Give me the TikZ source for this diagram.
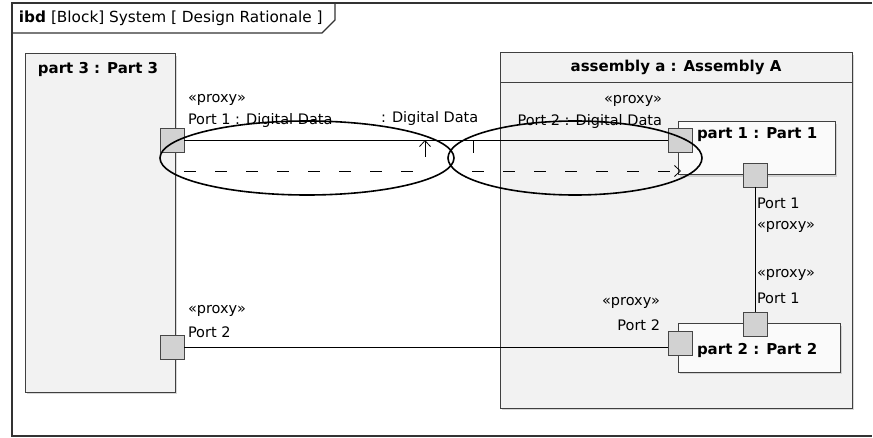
\documentclass[tikz,border=0pt]{standalone}
\usepackage{fontspec}
\setmainfont{DejaVu Sans}
\usetikzlibrary{arrows.meta,shadows}

\begin{document}
\begin{tikzpicture}[
    x=1pt, y=-1pt, % 按像素坐标，y 向下
    line width=0.8pt, % 统一线宽
    every node/.style={
        inner sep=0pt,
        outer sep=0pt,
        font=\fontsize{14.5}{17}\selectfont
    },
    diagframe/.style={draw=gray!40!black, line width=1.2pt},
    block/.style={draw=gray!50!black, line width=1pt, fill=gray!10, anchor=north west,
        drop shadow={shadow xshift=2pt, shadow yshift=-2pt, fill=gray!60}},
    inner block/.style={block, fill=gray!4},
    port/.style={draw=gray!55!black, line width=0.6pt, fill=gray!35, minimum size=24pt},
    blockname/.style={font=\fontsize{15}{18}\selectfont\bfseries},
    oval/.style={line width=1.6pt},
    flowdash/.style={dash pattern=on 12pt off 19pt},
    barb/.style={-{Straight Barb[length=6pt,width=11pt]}}
]
  \useasboundingbox (0,0) rectangle (873,438);

  % 外框与标题
  \draw[diagframe] (872,3) -- (12,3) -- (12,436) -- (872,436);
  \draw[diagframe] (12,33) -- (322,33) -- (335,20) -- (335,3);
  \node[anchor=west, font=\fontsize{15.3}{18}\selectfont] (header) at (19,18)
    {\textbf{ibd} [Block] System [ Design Rationale ]};

  % 模块
  \node[block, minimum width=150pt, minimum height=338pt] (part3) at (25,54) {};
  \node[block, minimum width=352pt, minimum height=355pt] (asm) at (500,53) {};
  \draw[draw=gray!50!black] ([yshift=-29pt]asm.north west) -- ([yshift=-29pt]asm.north east);
  \node[inner block, minimum width=157pt, minimum height=53pt] (part1) at (678,122) {};
  \node[inner block, minimum width=162pt, minimum height=48pt] (part2) at (678,324) {};

  \node[blockname] (part3name) at (98,69) {part 3 : Part 3};
  \node[blockname] (asmname) at (676,67) {assembly a : Assembly A};
  \node[blockname, anchor=west] (part1name) at (697,135) {part 1 : Part 1};
  \node[blockname, anchor=west] (part2name) at (697,350) {part 2 : Part 2};

  % 端口
  \node[port] (p3a) at (172,140) {};
  \node[port] (p3b) at (172,347) {};
  \node[port] (p1a) at (680,140) {};
  \node[port] (p1b) at (755,175) {};
  \node[port] (p2a) at (755,324) {};
  \node[port] (p2b) at (680,343) {};

  % 端口标签
  \node[anchor=west] (p3aster) at (188,100) {«proxy»};
  \node[anchor=west] (p3alabel) at (188,121) {Port 1 : Digital Data};
  \node[anchor=west] (p3bster) at (188,311) {«proxy»};
  \node[anchor=west] (p3blabel) at (188,332) {Port 2};
  \node[anchor=east] (p1aster) at (662,101) {«proxy»};
  \node[anchor=east] (p1alabel) at (662,122) {Port 2 : Digital Data};
  \node[anchor=west] (p1blabel) at (757,203) {Port 1};
  \node[anchor=west] (p1bster) at (757,227) {«proxy»};
  \node[anchor=west] (p2aster) at (757,275) {«proxy»};
  \node[anchor=west] (p2alabel) at (757,298) {Port 1};
  \node[anchor=east] (p2bster) at (660,303) {«proxy»};
  \node[anchor=east] (p2blabel) at (660,325) {Port 2};
  \node[anchor=west] (conlabel) at (381,119) {: Digital Data};

  % 连接器
  \draw (p3a.east) -- (p1a.west);
  \draw (p3b.east) -- (p3b.east -| p2b.west);
  \draw (p1b.south) -- (p2a.north);

  % 数据流
  \coordinate (d1) at (184,171);
  \coordinate (d2) at (430,171);
  \coordinate (d3) at (472,171);
  \coordinate (d4) at (681,171);
  \coordinate (u1) at (425,157);
  \coordinate (t1) at (473,153);
  \draw[flowdash] (d1) -- (d2);
  \draw[flowdash, barb] (d3) -- (d4);
  \draw[barb] (u1) -- (u1 |- p3a.east);
  \draw (t1) -- (t1 |- p3a.east);

  % 椭圆
  \draw[oval] (307,158) ellipse [x radius=147, y radius=37];
  \draw[oval] (575,158) ellipse [x radius=127, y radius=37];
\end{tikzpicture}
\end{document}
